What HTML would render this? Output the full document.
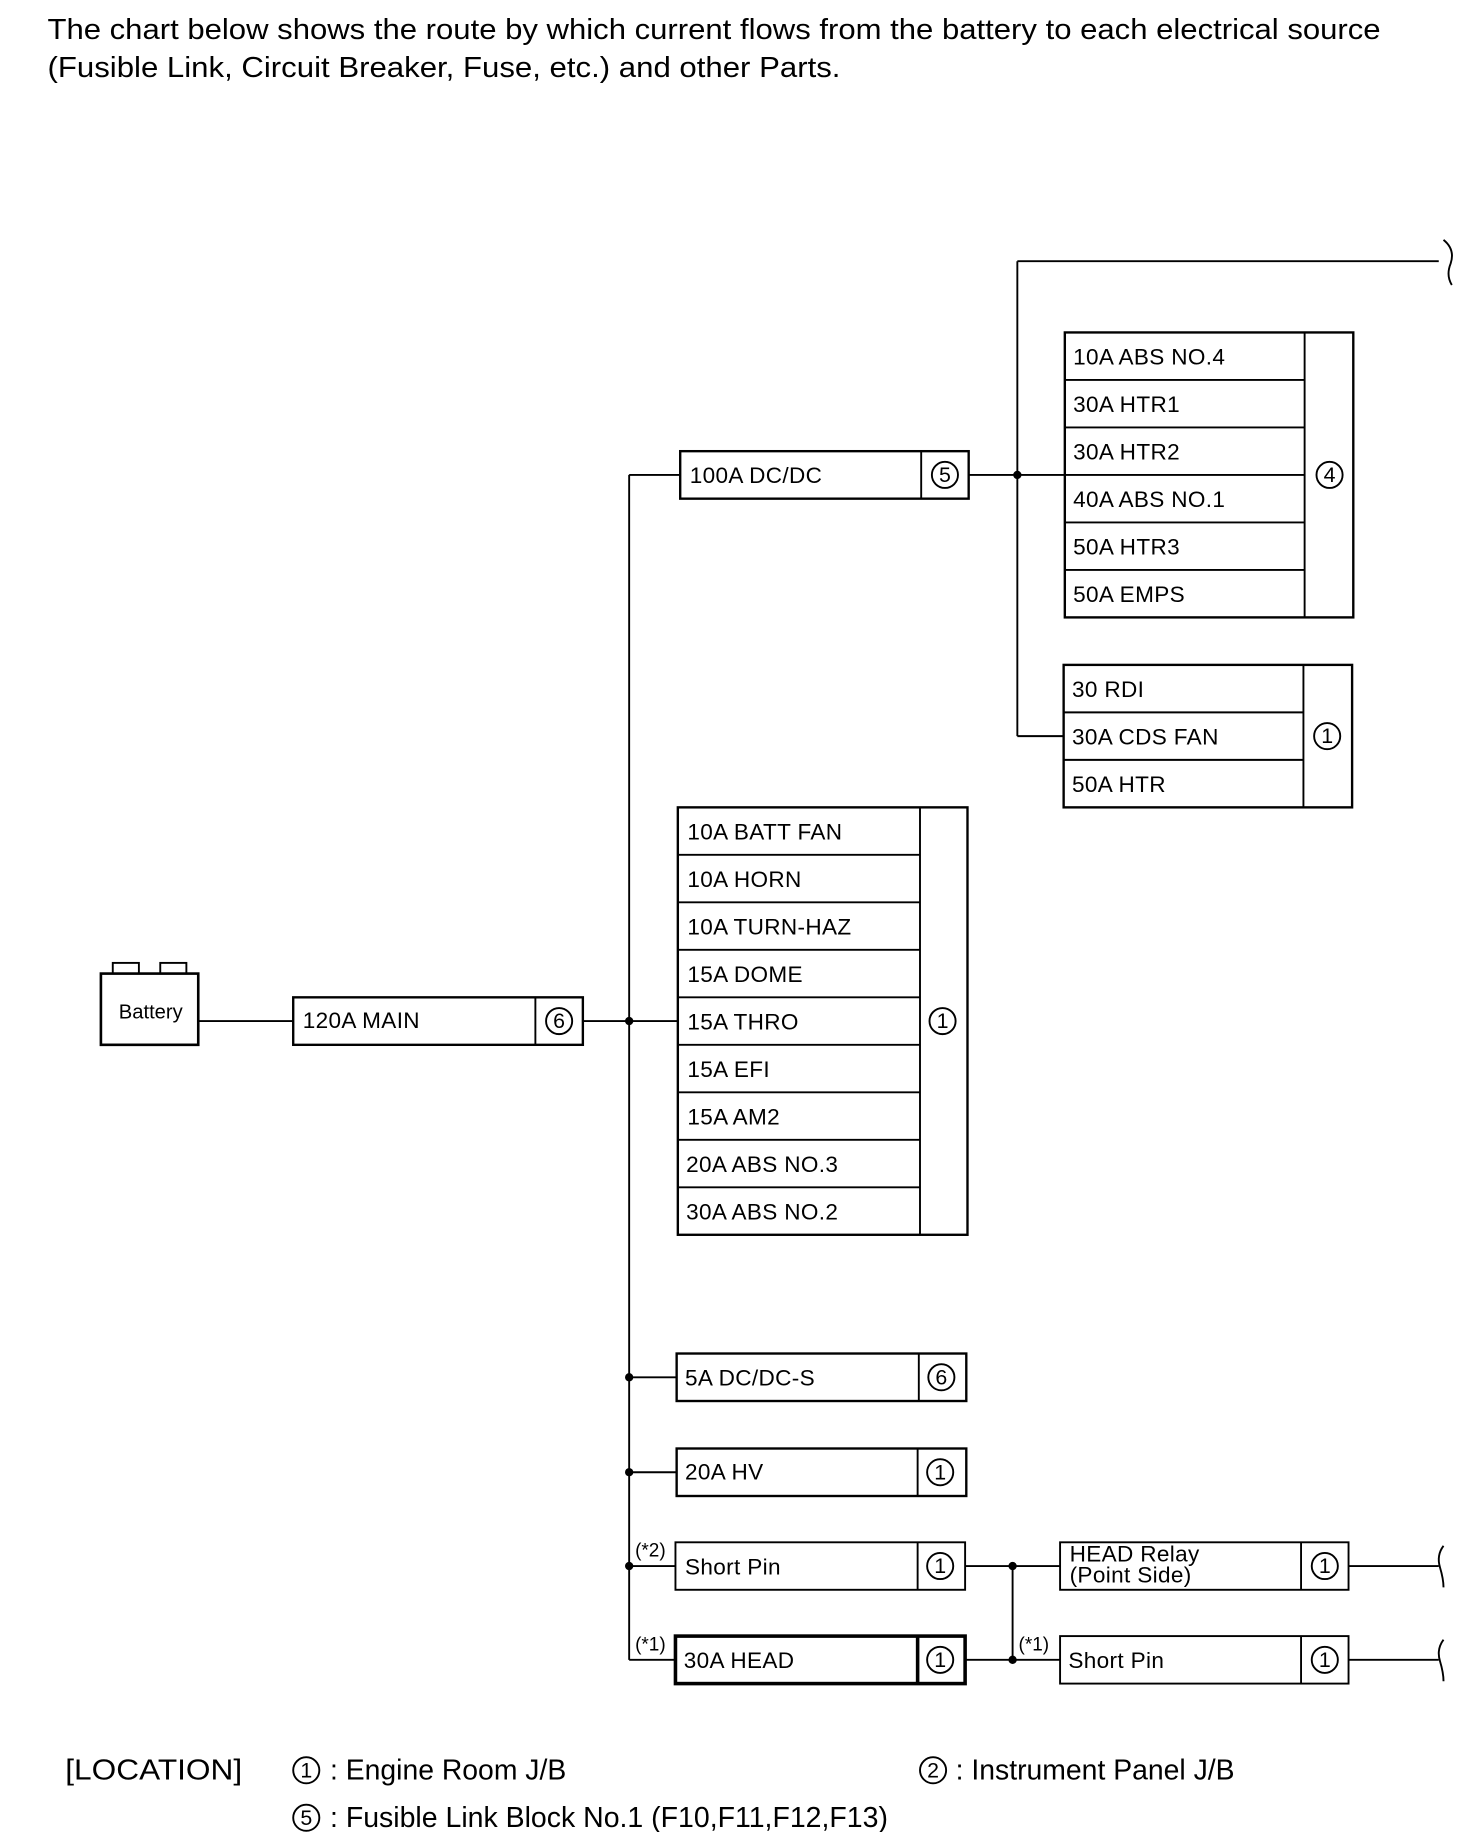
<!DOCTYPE html>
<html><head><meta charset="utf-8"><style>
html,body{margin:0;padding:0;background:#fff}
svg{display:block}
text{font-family:"Liberation Sans",sans-serif;fill:#000}
</style></head><body>
<svg width="1472" height="1832" viewBox="0 0 1240 1543" preserveAspectRatio="none" xmlns="http://www.w3.org/2000/svg">
<g font-size="24">
<text x="40" y="33" textLength="1123" lengthAdjust="spacingAndGlyphs">The chart below shows the route by which current flows from the battery to each electrical source</text>
<text x="40" y="65" textLength="668" lengthAdjust="spacingAndGlyphs">(Fusible Link, Circuit Breaker, Fuse, etc.) and other Parts.</text>
</g>
<g stroke="#000" stroke-width="1.6" fill="none">
<rect x="85" y="820" width="82" height="60" stroke-width="2.2"/>
<rect x="95" y="811" width="22" height="9"/>
<rect x="135" y="811" width="22" height="9"/>
<line x1="167" y1="860" x2="247" y2="860"/>
<rect x="247" y="840" width="244" height="40" stroke-width="2"/>
<line x1="451" y1="840" x2="451" y2="880"/>
<line x1="491" y1="860" x2="571" y2="860"/>
<line x1="530" y1="400" x2="530" y2="1398"/>
<line x1="530" y1="400" x2="573" y2="400"/>
<line x1="530" y1="1160" x2="570" y2="1160"/>
<line x1="530" y1="1240" x2="570" y2="1240"/>
<line x1="530" y1="1319" x2="569" y2="1319"/>
<line x1="530" y1="1398" x2="569" y2="1398"/>
<rect x="573" y="380" width="243" height="40" stroke-width="2"/>
<line x1="776" y1="380" x2="776" y2="420"/>
<line x1="816" y1="400" x2="897" y2="400"/>
<line x1="857" y1="220" x2="857" y2="620"/>
<line x1="857" y1="220" x2="1212" y2="220"/>
<line x1="857" y1="620" x2="896" y2="620"/>
<path d="M1216 202 Q1226 210 1222 222 Q1218 232 1223 240"/>
<rect x="897" y="280" width="243" height="240" stroke-width="2"/>
<line x1="1099" y1="280" x2="1099" y2="520"/>
<line x1="897" y1="320" x2="1099" y2="320"/><line x1="897" y1="360" x2="1099" y2="360"/><line x1="897" y1="400" x2="1099" y2="400"/><line x1="897" y1="440" x2="1099" y2="440"/><line x1="897" y1="480" x2="1099" y2="480"/>
<rect x="896" y="560" width="243" height="120" stroke-width="2"/>
<line x1="1098" y1="560" x2="1098" y2="680"/>
<line x1="896" y1="600" x2="1098" y2="600"/><line x1="896" y1="640" x2="1098" y2="640"/>
<rect x="571" y="680" width="244" height="360" stroke-width="2"/>
<line x1="775" y1="680" x2="775" y2="1040"/>
<line x1="571" y1="720" x2="775" y2="720"/><line x1="571" y1="760" x2="775" y2="760"/><line x1="571" y1="800" x2="775" y2="800"/><line x1="571" y1="840" x2="775" y2="840"/><line x1="571" y1="880" x2="775" y2="880"/><line x1="571" y1="920" x2="775" y2="920"/><line x1="571" y1="960" x2="775" y2="960"/><line x1="571" y1="1000" x2="775" y2="1000"/>
<rect x="570" y="1140" width="244" height="40" stroke-width="2"/><line x1="774" y1="1140" x2="774" y2="1180"/>
<rect x="570" y="1220" width="244" height="40" stroke-width="2"/><line x1="773" y1="1220" x2="773" y2="1260"/>
<rect x="569" y="1299" width="244" height="40"/><line x1="773" y1="1299" x2="773" y2="1339"/>
<rect x="569" y="1378" width="244" height="40" stroke-width="3"/><line x1="773" y1="1378" x2="773" y2="1418" stroke-width="3"/>
<line x1="813" y1="1319" x2="893" y2="1319"/>
<line x1="813" y1="1398" x2="893" y2="1398"/>
<line x1="853" y1="1319" x2="853" y2="1398"/>
<rect x="893" y="1299" width="243" height="40"/><line x1="1096" y1="1299" x2="1096" y2="1339"/>
<rect x="893" y="1378" width="243" height="40"/><line x1="1096" y1="1378" x2="1096" y2="1418"/>
<line x1="1136" y1="1319" x2="1212" y2="1319"/>
<line x1="1136" y1="1398" x2="1212" y2="1398"/>
<path d="M1216 1302 Q1210 1310 1213 1320 Q1216 1330 1216 1337"/>
<path d="M1216 1381 Q1210 1389 1213 1399 Q1216 1409 1216 1416"/>
<circle cx="471" cy="860" r="11"/>
<circle cx="796" cy="400" r="11"/>
<circle cx="1120" cy="400" r="11"/>
<circle cx="1118" cy="620" r="11"/>
<circle cx="794" cy="860" r="11"/>
<circle cx="793" cy="1160" r="11"/>
<circle cx="792" cy="1240" r="11"/>
<circle cx="792" cy="1319" r="11"/>
<circle cx="792" cy="1398" r="11"/>
<circle cx="1116" cy="1319" r="11"/>
<circle cx="1116" cy="1398" r="11"/>
<circle cx="258" cy="1491" r="11"/>
<circle cx="786" cy="1491" r="11"/>
<circle cx="258" cy="1531" r="11"/>
</g>
<g fill="#000">
<circle cx="530" cy="860" r="3.5"/><circle cx="857" cy="400" r="3.5"/>
<circle cx="530" cy="1160" r="3.5"/><circle cx="530" cy="1240" r="3.5"/><circle cx="530" cy="1319" r="3.5"/>
<circle cx="853" cy="1319" r="3.5"/><circle cx="853" cy="1398" r="3.5"/>
</g>
<g font-size="17" text-anchor="middle">
<text x="127" y="858">Battery</text>
</g>
<g font-size="18" text-anchor="middle">
<text x="471" y="866">6</text><text x="796" y="406">5</text><text x="1120" y="406">4</text><text x="1118" y="626">1</text>
<text x="794" y="866">1</text><text x="793" y="1166">6</text><text x="792" y="1246">1</text><text x="792" y="1325">1</text>
<text x="792" y="1404">1</text><text x="1116" y="1325">1</text><text x="1116" y="1404">1</text>
<text x="258" y="1497">1</text><text x="786" y="1497">2</text><text x="258" y="1537">5</text>
</g>
<g font-size="19" letter-spacing="0.3">
<text x="255" y="866">120A MAIN</text>
<text x="581" y="407">100A DC/DC</text>
<text x="904" y="307">10A ABS NO.4</text><text x="904" y="347">30A HTR1</text><text x="904" y="387">30A HTR2</text>
<text x="904" y="427">40A ABS NO.1</text><text x="904" y="467">50A HTR3</text><text x="904" y="507">50A EMPS</text>
<text x="903" y="587">30 RDI</text><text x="903" y="627">30A CDS FAN</text><text x="903" y="667">50A HTR</text>
<text x="579" y="707">10A BATT FAN</text><text x="579" y="747">10A HORN</text><text x="579" y="787">10A TURN-HAZ</text>
<text x="579" y="827">15A DOME</text><text x="579" y="867">15A THRO</text><text x="579" y="907">15A EFI</text>
<text x="579" y="947">15A AM2</text><text x="578" y="987">20A ABS NO.3</text><text x="578" y="1027">30A ABS NO.2</text>
<text x="577" y="1167">5A DC/DC-S</text>
<text x="577" y="1246">20A HV</text>
<text x="577" y="1326">Short Pin</text>
<text x="576" y="1405">30A HEAD</text>
<text x="901" y="1315">HEAD Relay</text>
<text x="901" y="1333">(Point Side)</text>
<text x="900" y="1405">Short Pin</text>
</g>
<g font-size="16">
<text x="535" y="1311">(*2)</text><text x="535" y="1390">(*1)</text><text x="858" y="1390">(*1)</text>
</g>
<g font-size="24">
<text x="55" y="1499" textLength="149" lengthAdjust="spacingAndGlyphs">[LOCATION]</text>
<text x="278" y="1499" textLength="199" lengthAdjust="spacingAndGlyphs">: Engine Room J/B</text>
<text x="805" y="1499" textLength="235" lengthAdjust="spacingAndGlyphs">: Instrument Panel J/B</text>
<text x="278" y="1539" textLength="470" lengthAdjust="spacingAndGlyphs">: Fusible Link Block No.1 (F10,F11,F12,F13)</text>
</g>
</svg>
</body></html>
